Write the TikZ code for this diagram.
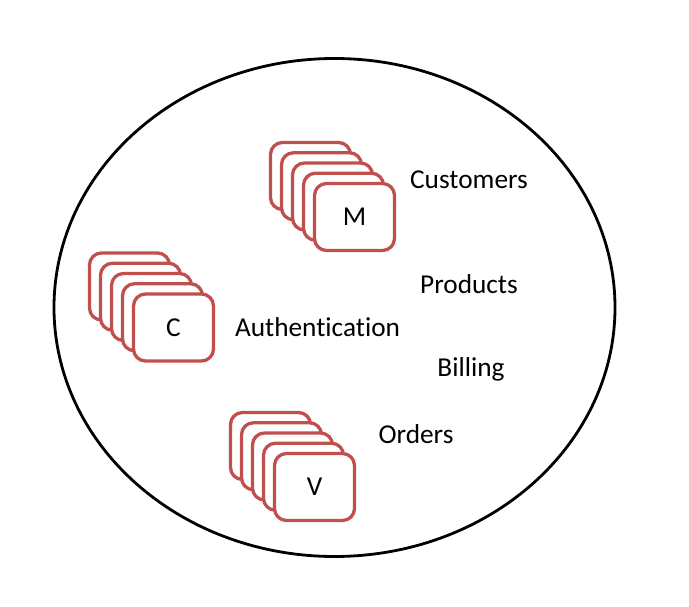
\documentclass[tikz,border=0pt]{standalone}
\usepackage{fontspec}
\setmainfont{Carlito}[RawFeature=-liga]
\usetikzlibrary{shapes.geometric}
\definecolor{boxred}{HTML}{C0504D}
\newcommand{\bigtext}{\fontsize{27.3}{31}\selectfont}
\tikzset{
  card/.style={draw=boxred, line width=3.3pt, fill=white, rounded corners=12pt,
    minimum width=80pt, minimum height=67pt, inner sep=0pt},
  lbl/.style={inner sep=0pt},
  boundary/.style={draw=black, line width=2.8pt, ellipse, minimum width=561pt,
    minimum height=498pt, inner sep=0pt}
}
\newcommand{\cardstack}[4]{%
  \foreach \i in {4,3,2,1} {
    \node[card] (#1\i) at ({#2-11*\i},{#3-10.25*\i}) {};
  }
  \node[card] (#10) at (#2,#3) {\bigtext #4};
}
\begin{document}
\begin{tikzpicture}[x=1pt,y=-1pt]
\useasboundingbox (0,0) rectangle (689,607);
\node[boundary] (ring) at (334.5,307.5) {};
\cardstack{m}{354.5}{217}{M}
\cardstack{c}{173.5}{327.5}{C}
\cardstack{v}{314.5}{487}{V}
\node[lbl] (customers) at (469,180) {\bigtext Customers};
\node[lbl] (products) at (469,284) {\bigtext Products};
\node[lbl] (auth) at (317.5,327) {\bigtext Authentication};
\node[lbl] (billing) at (471,369) {\bigtext Billing};
\node[lbl] (orders) at (416,434) {\bigtext Orders};
\end{tikzpicture}
\end{document}
